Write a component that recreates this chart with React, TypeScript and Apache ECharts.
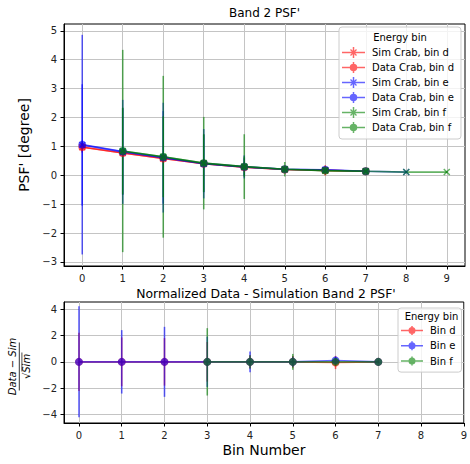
import React, { useEffect, useRef } from 'react';
import * as echarts from 'echarts';

// ---------- data ----------
const bins = [0, 1, 2, 3, 4, 5, 6, 7, 8, 9];
const topYTicks = [-3, -2, -1, 0, 1, 2, 3, 4, 5];
const bottomYTicks = [-4, -2, 0, 2, 4];

// Top panel: PSF' [degree] per bin (null = no point)
const simCrabD = [0.97, 0.77, 0.58, 0.4, 0.28, 0.2, 0.17, 0.14, null, null];
const simCrabDErr = [0.15, 0.1, 0.1, 0.08, 0.05, 0.04, 0.03, 0.02, null, null];
const dataCrabD = [0.98, 0.77, 0.58, 0.4, 0.28, 0.2, 0.17, 0.14, null, null];
const dataCrabDErr = [0.2, 0.12, 0.1, 0.08, 0.06, 0.05, 0.18, 0.03, null, null];
const simCrabE = [1.05, 0.81, 0.61, 0.4, 0.29, 0.21, 0.18, 0.14, 0.11, null];
const simCrabEErr = [2.1, 1.8, 1.9, 1.2, 0.4, 0.08, 0.06, 0.04, 0.03, null];
const dataCrabE = [1.06, 0.82, 0.62, 0.41, 0.29, 0.21, 0.19, 0.14, null, null];
const dataCrabEErr = [3.8, 1.5, 1.6, 1.0, 0.3, 0.08, 0.1, 0.04, null, null];
const simCrabF = [null, 0.84, 0.64, 0.42, 0.3, 0.21, 0.16, 0.14, 0.11, 0.11];
const simCrabFErr = [null, 1.5, 1.4, 1.0, 0.35, 0.1, 0.06, 0.04, 0.03, 0.03];
const dataCrabF = [null, 0.84, 0.64, 0.42, 0.3, 0.21, 0.16, 0.14, null, null];
const dataCrabFErr = [null, 3.5, 2.8, 1.6, 1.12, 0.25, 0.1, 0.05, null, null];

// Bottom panel: (Data - Sim)/sqrt(Sim)
const normD = [0, 0, 0, 0, 0, 0, -0.05, 0, null, null];
const normDErr = [2.2, 1.85, 1.8, 1.5, 0.5, 0.45, 0.5, 0.1, null, null];
const normE = [0, 0, 0, 0, 0, 0, 0.1, 0, null, null];
const normEErr = [4.2, 2.4, 2.65, 1.9, 0.78, 0.4, 0.3, 0.1, null, null];
const normF = [null, null, null, 0, 0, 0, 0, 0, null, null];
const normFErr = [null, null, null, 2.55, 0.5, 0.6, 0.3, 0.1, null, null];

const topNames = [
  'Sim Crab, bin d',
  'Data Crab, bin d',
  'Sim Crab, bin e',
  'Data Crab, bin e',
  'Sim Crab, bin f',
  'Data Crab, bin f',
];
const bottomNames = ['Bin d', 'Bin e', 'Bin f'];

// ---------- style ----------
const FONT = 'DejaVu Sans';
const RED = '#ff0000';
const BLUE = '#0000ff';
const GREEN = '#008000';
const ALPHA = 0.6;
const X_SYMBOL = 'path://M0,0L10,10M10,0L0,10';

const ICON_SIM_TOP =
  'path://M0,4.75H23V6.25H0Z M10.75,0H12.25V11H10.75Z ' +
  'M8.96,2.04L14.96,8.04L14.04,8.96L8.04,2.96Z M14.04,2.04L14.96,2.96L8.96,8.96L8.04,8.04Z';
const ICON_DATA_TOP =
  'path://M0,4.75H23V6.25H0Z M10.75,0H12.25V11H10.75Z M7.75,5.5A3.75,3.75 0 1,1 15.25,5.5A3.75,3.75 0 1,1 7.75,5.5Z';
const ICON_DATA_BOT =
  'path://M0,4.75H22V6.25H0Z M10.25,1H11.75V10H10.25Z M7.5,5.5A3.5,3.5 0 1,1 14.5,5.5A3.5,3.5 0 1,1 7.5,5.5Z M0,0H0.01V11H0Z';

type Pt = [number, number, number];
const pts = (vals: (number | null)[], errs: (number | null)[]): Pt[] => {
  const out: Pt[] = [];
  bins.forEach((b, i) => {
    const v = vals[i];
    if (v !== null && v !== undefined) out.push([b, v, (errs[i] as number) ?? 0]);
  });
  return out;
};

const errSeries = (name: string, data: Pt[], color: string, idx: number) => ({
  type: 'custom',
  name: name + ' (err)',
  xAxisIndex: idx,
  yAxisIndex: idx,
  data,
  encode: { x: 0, y: 1 },
  clip: true,
  silent: true,
  renderItem: (_p: any, api: any) => {
    const x = api.value(0);
    const y = api.value(1);
    const e = api.value(2);
    const a = api.coord([x, y + e]);
    const b = api.coord([x, y - e]);
    return {
      type: 'line',
      shape: { x1: a[0], y1: a[1], x2: b[0], y2: b[1] },
      style: { stroke: color, lineWidth: 1.6, opacity: ALPHA },
    };
  },
});

const lineSeries = (name: string, data: Pt[], color: string, sim: boolean, idx: number) => ({
  type: 'line',
  name,
  xAxisIndex: idx,
  yAxisIndex: idx,
  data: data.map((p) => [p[0], p[1]]),
  symbol: sim ? X_SYMBOL : 'circle',
  symbolSize: sim ? 6 : 8,
  showSymbol: true,
  silent: true,
  lineStyle: { color, width: 1.6, opacity: ALPHA },
  itemStyle: { color, borderColor: color, borderWidth: sim ? 1.5 : 0, opacity: ALPHA },
  emphasis: { disabled: true },
});

const minusFmt = (v: number) => String(v).replace('-', '\u2212');

const makeX = (gridIndex: number, min: number, max: number, name?: string) => ({
  type: 'value',
  gridIndex,
  min,
  max,
  name: name || '',
  nameLocation: 'middle',
  nameGap: 20,
  nameTextStyle: { fontFamily: FONT, fontSize: 14, color: '#000' },
  axisLine: { show: true, onZero: false, lineStyle: { color: '#000', width: 1 } },
  axisTick: { show: true, length: 3.5, customValues: bins, lineStyle: { color: '#000' } },
  axisLabel: {
    customValues: bins,
    margin: 7,
    fontFamily: FONT,
    fontSize: 10,
    color: '#222',
    formatter: minusFmt,
  },
  splitLine: { show: true, lineStyle: { color: '#c4c4c4', width: 1 } },
});

const makeY = (gridIndex: number, min: number, max: number, ticks: number[], name?: string) => ({
  type: 'value',
  gridIndex,
  min,
  max,
  name: name || '',
  nameLocation: 'middle',
  nameRotate: 90,
  nameGap: 28,
  nameTextStyle: { fontFamily: FONT, fontSize: 14, color: '#000' },
  axisLine: { show: true, onZero: false, lineStyle: { color: '#000', width: 1 } },
  axisTick: { show: true, length: 3.5, customValues: ticks, lineStyle: { color: '#000' } },
  axisLabel: {
    customValues: ticks,
    margin: 7,
    fontFamily: FONT,
    fontSize: 10,
    color: '#222',
    formatter: minusFmt,
  },
  splitLine: { show: true, lineStyle: { color: '#c4c4c4', width: 1 } },
});

const legendBase = {
  orient: 'vertical',
  selectedMode: false,
  backgroundColor: 'rgba(255,255,255,0.8)',
  borderColor: '#cccccc',
  borderWidth: 1,
  borderRadius: 3,
  textStyle: { fontFamily: FONT, fontSize: 10, color: '#000', lineHeight: 11, padding: [0, 0, 0, 2] },
};

export default function App() {
  const ref = useRef<HTMLDivElement>(null);

  useEffect(() => {
    document.body.style.margin = '0';
    if (!ref.current) return;
    const chart = echarts.init(ref.current, undefined, { renderer: 'svg' });

    const topSets: [string, Pt[], string, boolean][] = [
      [topNames[0], pts(simCrabD, simCrabDErr), RED, true],
      [topNames[1], pts(dataCrabD, dataCrabDErr), RED, false],
      [topNames[2], pts(simCrabE, simCrabEErr), BLUE, true],
      [topNames[3], pts(dataCrabE, dataCrabEErr), BLUE, false],
      [topNames[4], pts(simCrabF, simCrabFErr), GREEN, true],
      [topNames[5], pts(dataCrabF, dataCrabFErr), GREEN, false],
    ];
    const bottomSets: [string, Pt[], string][] = [
      [bottomNames[0], pts(normD, normDErr), RED],
      [bottomNames[1], pts(normE, normEErr), BLUE],
      [bottomNames[2], pts(normF, normFErr), GREEN],
    ];

    const series: any[] = [];
    topSets.forEach(([n, d, c, sim]) => {
      series.push(errSeries(n, d, c, 0));
      series.push(lineSeries(n, d, c, sim, 0));
    });
    bottomSets.forEach(([n, d, c]) => {
      series.push(errSeries(n, d, c, 1));
      series.push(lineSeries(n, d, c, false, 1));
    });

    const topColors = [RED, RED, BLUE, BLUE, GREEN, GREEN];
    const botColors = [RED, BLUE, GREEN];

    chart.setOption({
      animation: false,
      backgroundColor: '#ffffff',
      grid: [
        { left: 64, top: 24, width: 401, height: 242, show: true, borderColor: '#000', borderWidth: 1, backgroundColor: 'transparent' },
        { left: 64, top: 302, width: 402, height: 121, show: true, borderColor: '#000', borderWidth: 1, backgroundColor: 'transparent' },
      ],
      xAxis: [makeX(0, -0.45, 9.45), makeX(1, -0.35, 9, 'Bin Number')],
      yAxis: [
        makeY(0, -3.14, 5.235, topYTicks, "PSF' [degree]"),
        makeY(1, -4.63, 4.53, bottomYTicks, ''),
      ],
      legend: [
        {
          ...legendBase,
          left: 339,
          top: 27,
          padding: [20, 7, 6, 3],
          itemWidth: 23,
          itemHeight: 11,
          itemGap: 4,
          data: topNames.map((name, i) => ({
            name,
            icon: i % 2 === 0 ? ICON_SIM_TOP : ICON_DATA_TOP,
            itemStyle: { color: topColors[i], opacity: ALPHA, borderWidth: 0 },
          })),
        },
        {
          ...legendBase,
          left: 398,
          top: 308,
          padding: [17, 6, 5.5, 3],
          itemWidth: 22,
          itemHeight: 11,
          itemGap: 4.3,
          data: bottomNames.map((name, i) => ({
            name,
            icon: ICON_DATA_BOT,
            itemStyle: { color: botColors[i], opacity: ALPHA, borderWidth: 0 },
          })),
        },
      ],
      graphic: [
        {
          type: 'text',
          x: 264.5,
          y: 13,
          z: 100,
          style: { text: "Band 2 PSF'", align: 'center', verticalAlign: 'middle', fontFamily: FONT, fontSize: 12, fill: '#000' },
        },
        {
          type: 'text',
          x: 266,
          y: 293,
          z: 100,
          style: {
            text: "Normalized Data - Simulation Band 2 PSF'",
            align: 'center',
            verticalAlign: 'middle',
            fontFamily: FONT,
            fontSize: 12.4,
            fill: '#000',
          },
        },
        {
          type: 'text',
          x: 400,
          y: 37,
          z: 100,
          style: { text: 'Energy bin', align: 'center', verticalAlign: 'middle', fontFamily: FONT, fontSize: 10, fill: '#000' },
        },
        {
          type: 'text',
          x: 431.5,
          y: 316,
          z: 100,
          style: { text: 'Energy bin', align: 'center', verticalAlign: 'middle', fontFamily: FONT, fontSize: 10, fill: '#000' },
        },
        {
          type: 'group',
          x: 19.3,
          y: 366.5,
          rotation: Math.PI / 2,
          z: 100,
          children: [
            {
              type: 'text',
              x: 0,
              y: -1.5,
              style: {
                text: '{i|Data} \u2212 {i|Sim}',
                align: 'center',
                verticalAlign: 'bottom',
                fontFamily: FONT,
                fontSize: 10,
                fill: '#000',
                rich: { i: { fontFamily: FONT, fontStyle: 'italic', fontSize: 10, fill: '#000' } },
              },
            },
            {
              type: 'line',
              shape: { x1: -24, y1: 0, x2: 24, y2: 0 },
              style: { stroke: '#000', lineWidth: 0.8 },
            },
            {
              type: 'text',
              x: 0,
              y: 2,
              style: {
                text: '\u221A{i|Sim}',
                align: 'center',
                verticalAlign: 'top',
                fontFamily: FONT,
                fontSize: 10,
                fill: '#000',
                rich: { i: { fontFamily: FONT, fontStyle: 'italic', fontSize: 10, fill: '#000' } },
              },
            },
            {
              type: 'line',
              shape: { x1: -5, y1: 2.6, x2: 14, y2: 2.6 },
              style: { stroke: '#000', lineWidth: 0.7 },
            },
          ],
        },
      ],
      series,
    });

    return () => chart.dispose();
  }, []);

  return <div ref={ref} style={{ width: 470, height: 464 }} />;
}
